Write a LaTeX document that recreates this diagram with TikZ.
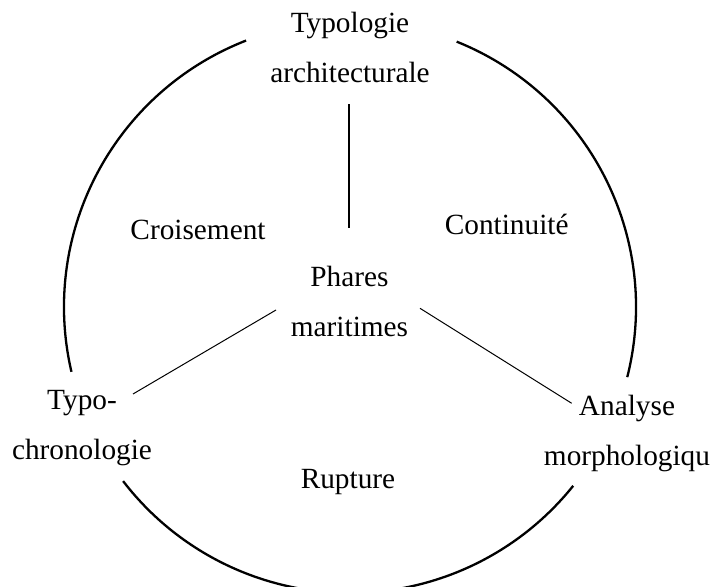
\documentclass[tikz,border=0pt]{standalone}
\usepackage{fontspec}
\setmainfont{Liberation Serif}
\begin{document}
\begin{tikzpicture}[x=1pt,y=1pt,
  label/.style={font=\fontsize{29.3}{50}\selectfont, align=center, anchor=base, inner sep=0pt},
  ring/.style={line width=2.3pt},
  spoke/.style={line width=1pt},
  stem/.style={line width=2pt}]
  \useasboundingbox (0,0) rectangle (713,587);
  \clip (0,0) rectangle (713,587);

  % centre of the ring
  \coordinate (c) at (350,280);

  % ring, broken where the outer labels sit
  \draw[ring] ([shift={(-14.2:286)}]c) arc (-14.2:68.1:286);
  \draw[ring] ([shift={(111.3:286)}]c) arc (111.3:193.1:286);
  \draw[ring] ([shift={(217.5:286)}]c) arc (217.5:321.3:286);

  % labels (two-line labels are placed by the baseline of their last line)
  \node[label] (typo)   at (350,504)   {Typologie\\architecturale};
  \node[label] (phares) at (349.5,250) {Phares\\maritimes};
  \node[label] (chrono) at (82,127)    {Typo-\\chronologie};
  \node[label] (morpho) at (627,121)   {Analyse\\morphologiqu};
  \node[label] (crois)  at (198,347.7) {Croisement};
  \node[label] (cont)   at (506.7,352.7) {Continuité};
  \node[label] (rupt)   at (348,98)    {Rupture};

  % spokes from the centre towards the outer labels
  \coordinate (s1a) at (349.3,359);
  \coordinate (s1b) at (349.3,483);
  \coordinate (s2a) at (276,277);
  \coordinate (s2b) at (133,193);
  \coordinate (s3a) at (420,278.7);
  \coordinate (s3b) at (571.7,183.7);
  \draw[stem]  (s1a) -- (s1b);
  \draw[spoke] (s2a) -- (s2b);
  \draw[spoke] (s3a) -- (s3b);
\end{tikzpicture}
\end{document}
